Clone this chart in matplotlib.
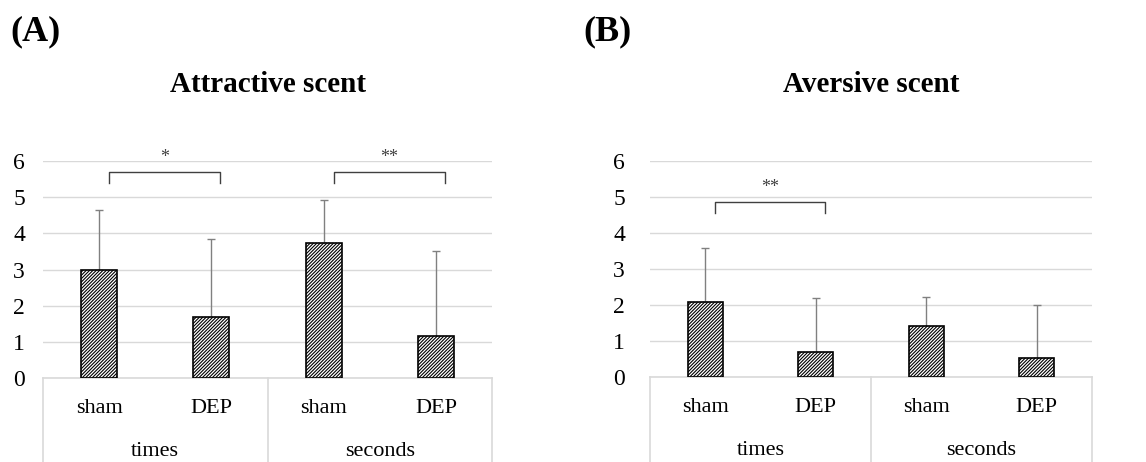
import numpy as np
import matplotlib
matplotlib.use('Agg')
from matplotlib import pyplot as plt

plt.rcParams['font.family'] = ['Liberation Serif', 'DejaVu Serif']
plt.rcParams['hatch.linewidth'] = 0.8

# datos de cada panel
groups = ['times', 'seconds']
conditions = ['sham', 'DEP', 'sham', 'DEP']

attractive_mean = [3.0, 1.68, 3.73, 1.17]
attractive_top = [4.65, 3.83, 4.92, 3.52]
aversive_mean = [2.08, 0.70, 1.42, 0.52]
aversive_top = [3.58, 2.20, 2.23, 2.00]

# comparaciones significativas: (barra i, barra j, altura, etiqueta)
attractive_sig = [(0, 1, 5.69, '*'), (2, 3, 5.69, '**')]
aversive_sig = [(0, 1, 4.86, '**')]

grid_color = '#d9d9d9'


def draw_panel(ax, means, tops, sig, title, ypad):
    x = np.arange(len(means))
    means = np.array(means)
    err_up = np.array(tops) - means
    ax.bar(x, means, width=0.32, color='white', edgecolor='black',
           linewidth=1.2, hatch='/' * 10, zorder=3)
    ax.errorbar(x, means, yerr=[np.zeros_like(means), err_up], fmt='none',
                ecolor='#808080', elinewidth=1.0, capsize=3, capthick=1.0,
                zorder=2)
    ax.set_xlim(-0.5, 3.5)
    ax.set_ylim(0, 6)
    ax.set_yticks(range(0, 7))
    ax.yaxis.grid(True, color=grid_color, linewidth=1.0, zorder=0)
    ax.set_axisbelow(True)
    for s in ax.spines.values():
        s.set_visible(False)
    ax.tick_params(axis='y', length=0, labelsize=17, pad=ypad)
    ax.tick_params(axis='x', length=0, labelbottom=False)

    # eje de categorias en dos niveles
    tr = ax.get_xaxis_transform()
    ax.plot([-0.5, 3.5], [0, 0], color=grid_color, lw=1.2, transform=tr,
            clip_on=False)
    for xv in [-0.5, 1.5, 3.5]:
        ax.plot([xv, xv], [0, -0.45], color=grid_color, lw=1.2,
                transform=tr, clip_on=False)
    for i, c in enumerate(conditions):
        ax.text(i, -0.14, c, transform=tr, ha='center', va='center',
                fontsize=16)
    for g, name in enumerate(groups):
        ax.text(2 * g + 0.5, -0.34, name, transform=tr, ha='center',
                va='center', fontsize=16)

    # corchetes de significancia
    for i, j, h, lab in sig:
        x0, x1 = i + 0.09, j + 0.08
        ax.plot([x0, x0, x1, x1], [h - 0.3, h, h, h - 0.3], color='#404040',
                lw=1.0, clip_on=False)
        ax.text((x0 + x1) / 2, h + 0.17, lab, ha='center', va='bottom',
                fontsize=13, color='#404040')

    ax.set_title(title, fontsize=21, fontweight='bold', pad=50)


fig = plt.figure(figsize=(11.46, 4.62), dpi=100)
ax1 = fig.add_axes([43 / 1146, 1 - 378 / 462, 449 / 1146, 217 / 462])
ax2 = fig.add_axes([650 / 1146, 1 - 377 / 462, 442 / 1146, 216 / 462])

draw_panel(ax1, attractive_mean, attractive_top, attractive_sig,
           'Attractive scent', 13)
draw_panel(ax2, aversive_mean, aversive_top, aversive_sig,
           'Aversive scent', 18)

fig.text(10 / 1146, 1 - 32 / 462, '(A)', fontsize=26, fontweight='bold',
         ha='left', va='center')
fig.text(583 / 1146, 1 - 32 / 462, '(B)', fontsize=26, fontweight='bold',
         ha='left', va='center')

fig.savefig('out.png', dpi=100)
